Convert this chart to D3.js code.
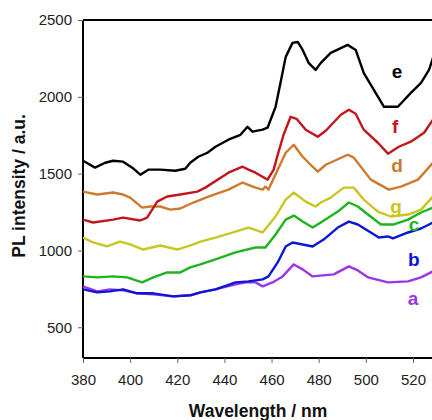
<!DOCTYPE html>
<html>
<head>
<meta charset="utf-8">
<script src="https://cdn.jsdelivr.net/npm/d3@7/dist/d3.min.js"></script>
<style>
  html, body { margin: 0; padding: 0; background: #fff; }
  svg { display: block; }
  text { font-family: "Liberation Sans", Arial, sans-serif; }
</style>
</head>
<body>
<svg id="chart" width="432" height="420"></svg>
<script>
// Wavelength (nm) / intensity (a.u.) pairs for each spectrum
const wlE = [380,385.1,389.4,392.8,397,400.9,404.3,407.7,412.8,419.1,423.4,425.5,428.9,432.8,436.2,441.7,446.8,449.8,451.9,456.2,458.3,461.7,463.8,466,468.9,471.1,473.2,475.7,478.7,480.9,485.1,492.3,495.7,499.1,503.4,507.7,513.6,519.1,523.4,526.8,528.9];
const valE = [1584,1539,1571,1584,1578,1539,1493,1526,1526,1519,1532,1571,1610,1636,1675,1721,1753,1805,1773,1786,1799,1935,2091,2260,2351,2357,2305,2221,2175,2221,2286,2338,2305,2156,2045,1935,1935,2026,2091,2175,2273];

const wlF = [380,384.3,392.8,397,404.3,407.2,411.5,415.7,421.3,428.5,431.9,441.7,447.7,450.2,453.2,458.3,460.9,463,465.1,468.1,470.6,474.5,479.6,483,489.4,492.8,495.7,499.1,505.1,509.4,514,519.1,524.7,528.5];
const valF = [1201,1182,1201,1214,1195,1214,1318,1351,1364,1383,1409,1506,1545,1526,1506,1461,1526,1643,1753,1870,1857,1786,1740,1779,1883,1916,1890,1786,1701,1630,1675,1708,1766,1851];

const wlD = [380,386,392.8,397,400,405.1,408.5,412.8,417,421.3,426.8,433.2,441.7,447.7,453.2,456.2,457.4,458.7,462.6,466,469.4,473.2,477.4,479.6,483,492.3,494.9,502.1,509.8,514.9,522.1,528.5];
const valD = [1383,1364,1377,1364,1344,1279,1286,1286,1266,1273,1312,1351,1396,1442,1409,1396,1416,1396,1526,1636,1688,1610,1545,1513,1558,1623,1604,1461,1396,1416,1461,1571];

const wlG = [380,384.3,390.2,395.7,400,405.5,412.8,420,426.8,429.8,436.2,444.7,450.2,456.2,461.7,466,469.4,474.5,478.7,480.9,485.1,490.6,494.9,499.1,505.1,510.6,517.9,523.4,528.5];
const valG = [1084,1052,1026,1058,1039,1006,1032,1006,1039,1058,1084,1123,1149,1117,1221,1331,1377,1318,1286,1312,1344,1409,1409,1331,1253,1221,1234,1266,1351];

const wlC = [380,386,392.8,398.7,405.1,409.8,415.7,421.3,425.5,429.8,436.2,444.7,453.2,457.4,461.7,466,469.4,473.2,477.4,480.9,488.1,492.8,496.6,500.9,506.4,511.9,517.9,523.4,528.5];
const valC = [831,825,831,825,792,825,857,857,890,909,942,987,1019,1019,1104,1201,1227,1188,1149,1182,1253,1312,1286,1234,1169,1169,1201,1247,1279];

const wlB = [380,386,391.5,397,403,409.8,418.3,425.5,429.8,436.2,444.7,450.2,456.2,458.7,462.6,466,468.9,473.2,477.4,482.1,488.1,492.8,496.6,502.1,505.5,509.4,511.5,517.9,523.4,528.5];
const valB = [747,727,734,747,721,721,701,708,727,747,792,799,812,831,922,1026,1052,1039,1026,1071,1149,1188,1169,1117,1084,1091,1078,1117,1143,1182];

const wlA = [380,386,391.5,397,403,409.8,418.3,425.5,429.8,436.2,444.7,449,453.2,456.2,460.4,464.7,469.4,473.2,477.4,481.7,486.4,492.8,496.6,500.9,509.4,517.9,523.4,528.5];
const valA = [766,734,747,740,721,714,701,708,727,747,779,792,792,766,792,831,909,877,831,838,844,896,870,825,792,799,825,864];

const seriesNames = ["a","b","c","g","d","f","e"];
const seriesColors = ["#9a35e8","#0b16d6","#1eb41e","#c9c521","#cc7a2e","#c3161c","#000000"];
const seriesWl = [wlA,wlB,wlC,wlG,wlD,wlF,wlE];
const seriesVal = [valA,valB,valC,valG,valD,valF,valE];
// label anchor positions in data units [wavelength, intensity]
const labelWl = [520, 520.4, 520.4, 512.8, 513.2, 512.4, 513.2];
const labelVal = [690, 944, 1172, 1289, 1550, 1804, 2162];

const xTicks = [380,400,420,440,460,480,500,520];
const yTicks = [500,1000,1500,2000,2500];

const svg = d3.select("#chart");
const mLeft = 83, mTop = 20, mBottom = 358;
const x = d3.scaleLinear().domain([380, 540]).range([mLeft, mLeft + 160 * 2.357]);
const y = d3.scaleLinear().domain([300, 2500]).range([mBottom, mTop]);

svg.append("defs").append("clipPath").attr("id", "clip")
  .append("rect").attr("x", mLeft).attr("y", mTop).attr("width", 400).attr("height", mBottom - mTop);

// Frame: top border
svg.append("line").attr("x1", mLeft).attr("x2", 470).attr("y1", mTop).attr("y2", mTop)
  .attr("stroke", "#000").attr("stroke-width", 2);

// Y axis
const yAxis = d3.axisLeft(y).tickValues(yTicks).tickSize(5).tickPadding(6).tickFormat(d3.format("d"));
const gy = svg.append("g").attr("transform", `translate(${mLeft},0)`).call(yAxis);
gy.select(".domain").attr("stroke-width", 2).attr("d", `M0,${mTop}V${mBottom}`);
gy.selectAll(".tick line").attr("stroke", "#666").attr("stroke-width", 1);
gy.selectAll(".tick text").attr("font-size", 15).attr("fill", "#222")
  .attr("font-family", "'Liberation Sans', Arial, sans-serif");

// X axis
const xAxis = d3.axisBottom(x).tickValues(xTicks).tickSize(5).tickPadding(11).tickFormat(d3.format("d"));
const gx = svg.append("g").attr("transform", `translate(0,${mBottom})`).call(xAxis);
gx.select(".domain").attr("stroke-width", 2).attr("d", `M${mLeft},0H470`);
gx.selectAll(".tick line").attr("stroke", "#666").attr("stroke-width", 1);
gx.selectAll(".tick text").attr("font-size", 15).attr("fill", "#222")
  .attr("font-family", "'Liberation Sans', Arial, sans-serif");

// Lines
const line = d3.line().x(d => x(d[0])).y(d => y(d[1])).curve(d3.curveLinear);
const gl = svg.append("g").attr("clip-path", "url(#clip)");
seriesNames.forEach((n, i) => {
  const pts = seriesWl[i].map((w, j) => [w, seriesVal[i][j]]);
  gl.append("path").datum(pts).attr("d", line)
    .attr("fill", "none").attr("stroke", seriesColors[i])
    .attr("stroke-width", 2.4).attr("stroke-linejoin", "round");
});

// Series labels
seriesNames.forEach((n, i) => {
  svg.append("text").attr("x", x(labelWl[i])).attr("y", y(labelVal[i]))
    .attr("text-anchor", "middle").attr("dominant-baseline", "central")
    .attr("font-size", 19).attr("font-weight", "bold").attr("fill", seriesColors[i])
    .text(n);
});

// Axis titles
svg.append("text").attr("x", 258).attr("y", 417).attr("text-anchor", "middle")
  .attr("font-size", 17.5).attr("font-weight", "bold").attr("fill", "#111")
  .text("Wavelength / nm");
svg.append("text").attr("transform", "translate(25,186) rotate(-90)").attr("text-anchor", "middle")
  .attr("font-size", 17.5).attr("font-weight", "bold").attr("fill", "#111")
  .text("PL intensity / a.u.");
</script>
</body>
</html>
